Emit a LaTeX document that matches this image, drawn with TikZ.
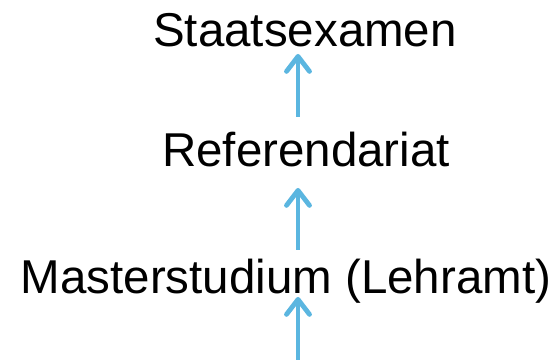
\documentclass[tikz,border=0pt]{standalone}
\usepackage{fontspec}
\setmainfont{Liberation Sans}
\usetikzlibrary{arrows.meta}
\definecolor{arrblue}{RGB}{91,182,224}
\begin{document}
\begin{tikzpicture}[x=1pt,y=1pt,
  lbl/.style={anchor=base,inner sep=0pt,text height=34pt,text depth=0pt,font=\fontsize{47.5}{50}\selectfont},
  arr/.style={draw=arrblue,line width=4.8pt,-{Straight Barb[length=15pt,width=23pt,line cap=round,line join=round]}}]
\useasboundingbox (0,0) rectangle (557,359);
\node[lbl] (st) at (305,312) {Staatsexamen};
\node[lbl] (ref) at (306,192) {Referendariat};
\node[lbl] (ms) at (286,66) {Masterstudium (Lehramt)};
\coordinate (bot) at (298,-3);
\draw[arr] ([xshift=-8pt,yshift=16pt]ref.north) -- ([xshift=-7pt,yshift=-7pt]st.base);
\draw[arr] ([xshift=12pt,yshift=9pt]ms.north) -- ([xshift=-8pt,yshift=-21pt]ref.base);
\draw[arr] (bot) -- ([xshift=12pt,yshift=-4pt]ms.base);
\end{tikzpicture}
\end{document}
